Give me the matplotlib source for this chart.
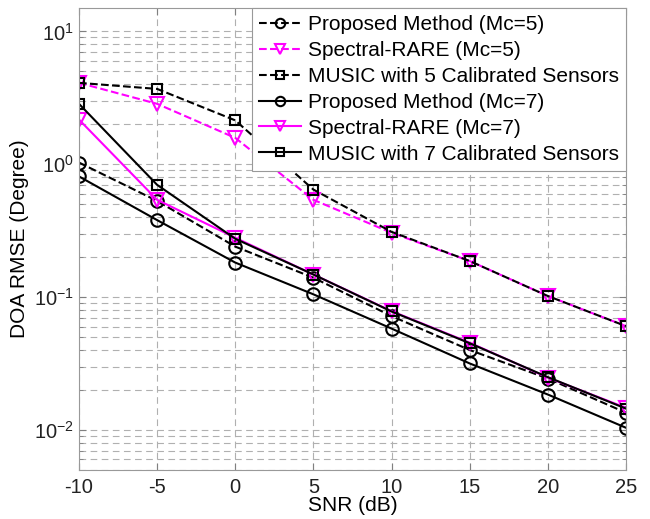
import numpy as np
import matplotlib.pyplot as plt
from matplotlib.ticker import LogLocator, NullFormatter, LogFormatterMathtext

plt.rcParams['font.family'] = ['Liberation Sans', 'DejaVu Sans']
plt.rcParams['mathtext.fontset'] = 'custom'
plt.rcParams['mathtext.rm'] = 'Liberation Sans'
plt.rcParams['mathtext.it'] = 'Liberation Sans'
plt.rcParams['axes.unicode_minus'] = False

snr = [-10, -5, 0, 5, 10, 15, 20, 25]

# RMSE curves, Mc = 5
prop_mc5 = [1.03, 0.53, 0.24, 0.14, 0.072, 0.040, 0.0244, 0.0135]
rare_mc5 = [4.1, 2.85, 1.58, 0.54, 0.305, 0.187, 0.102, 0.0605]
music_5 = [4.1, 3.69, 2.14, 0.645, 0.31, 0.187, 0.102, 0.0605]

# RMSE curves, Mc = 7
prop_mc7 = [0.81, 0.38, 0.182, 0.105, 0.058, 0.0317, 0.0185, 0.0104]
rare_mc7 = [2.17, 0.54, 0.28, 0.148, 0.0785, 0.0454, 0.0248, 0.0147]
music_7 = [2.85, 0.70, 0.275, 0.148, 0.078, 0.045, 0.025, 0.0145]

labels = ['Proposed Method (Mc=5)', 'Spectral-RARE (Mc=5)',
          'MUSIC with 5 Calibrated Sensors', 'Proposed Method (Mc=7)',
          'Spectral-RARE (Mc=7)', 'MUSIC with 7 Calibrated Sensors']

mag = '#ff00ff'
fig = plt.figure(figsize=(6.5, 5.19), dpi=100)
ax = fig.add_axes([0.1215, 0.0944, 0.8415, 0.8902])

style = dict(lw=1.5, mfc='none', mew=1.5)
ax.semilogy(snr, prop_mc5, 'k--', marker='o', ms=9, label=labels[0], **style)
ax.semilogy(snr, rare_mc5, '--', color=mag, marker='v', ms=10, label=labels[1], **style)
ax.semilogy(snr, music_5, 'k--', marker='s', ms=7.5, label=labels[2], **style)
ax.semilogy(snr, prop_mc7, 'k-', marker='o', ms=9, label=labels[3], **style)
ax.semilogy(snr, rare_mc7, '-', color=mag, marker='v', ms=10, label=labels[4], **style)
ax.semilogy(snr, music_7, 'k-', marker='s', ms=7.5, label=labels[5], **style)

ax.set_xlim(-10, 25)
ax.set_ylim(0.005, 15)
ax.set_xticks(snr)
ax.yaxis.set_major_locator(LogLocator(base=10))
ax.yaxis.set_minor_locator(LogLocator(base=10, subs=np.arange(2, 10)))
ax.yaxis.set_major_formatter(LogFormatterMathtext())
ax.yaxis.set_minor_formatter(NullFormatter())

ax.grid(True, which='major', ls=(0, (6, 4)), color='#b0b0b0', lw=0.8)
ax.grid(True, which='minor', axis='y', ls=(0, (6, 4)), color='#b0b0b0', lw=0.8)

ax.tick_params(which='both', direction='in', labelsize=14.5, colors='#808080',
               labelcolor='#222222', top=True, right=True)
ax.tick_params(which='major', length=5)
ax.tick_params(which='minor', length=3)
ax.tick_params(axis='x', pad=6)
for s in ax.spines.values():
    s.set_color('#999999')

ax.set_xlabel('SNR (dB)', fontsize=15, labelpad=-1)
ax.set_ylabel('DOA RMSE (Degree)', fontsize=15, labelpad=4)

leg = ax.legend(loc='upper right', fontsize=15, borderaxespad=0, fancybox=False,
                framealpha=1, edgecolor='#999999', handlelength=2.0,
                handletextpad=0.34, labelspacing=0.33, borderpad=0.35,
                markerscale=0.75)
leg.get_frame().set_linewidth(0.8)

fig.savefig('out.png', dpi=100)
